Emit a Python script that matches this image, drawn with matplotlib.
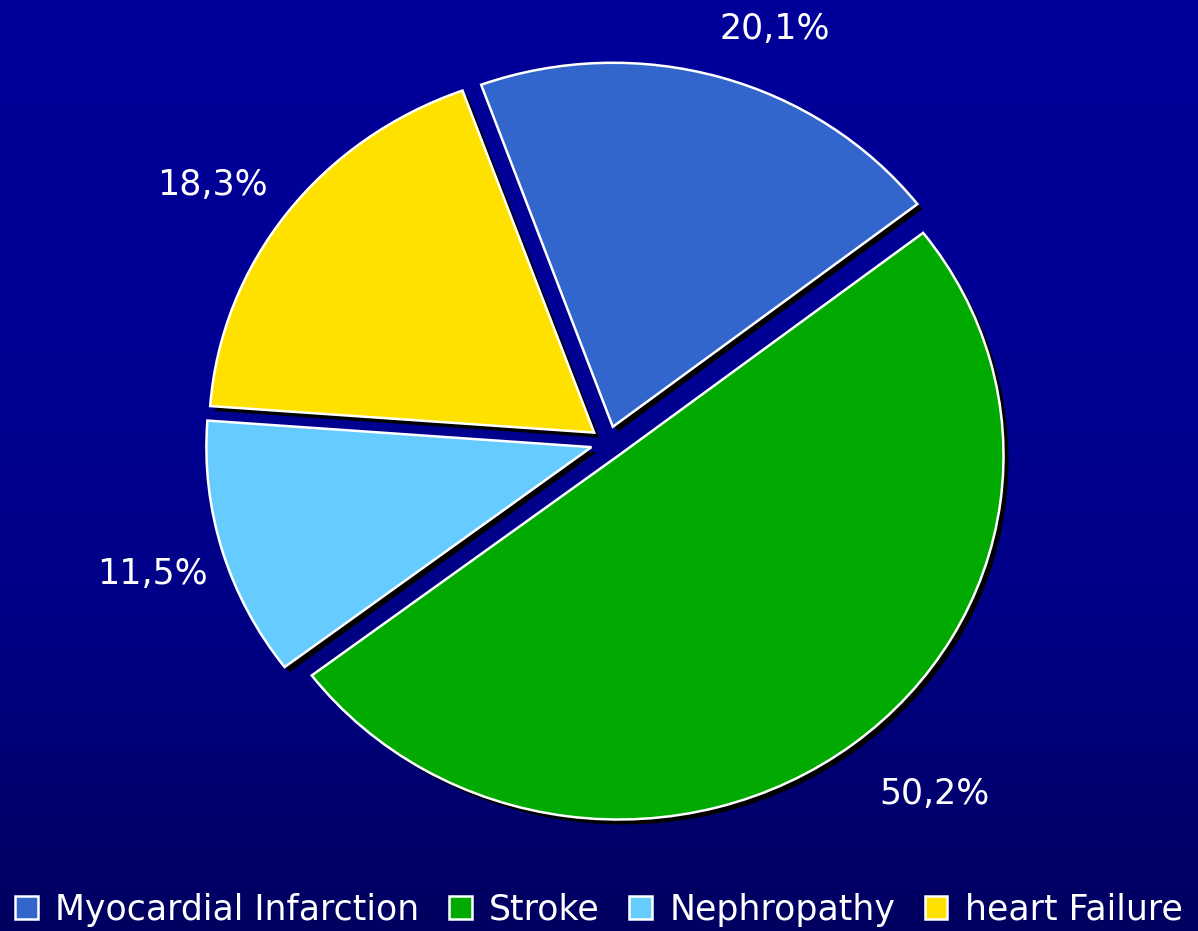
import matplotlib.pyplot as plt
import numpy as np
from matplotlib.colors import LinearSegmentedColormap

categories = ['Myocardial Infarction', 'Stroke', 'Nephropathy', 'heart Failure']
values = [20.1, 50.2, 11.5, 18.3]
colors = ['#3366CC', '#00AA00', '#66CCFF', '#FFE100']

# pixel geometry of the picture (pie center and radii, px)
W, H = 1198, 931
cx, cy = 608, 442.5
rx, ry = 385, 364

# label placement: radius and angle nudge (deg) relative to wedge middle
lab_r = [1.215, 1.285, 1.236, 1.247]
lab_dang = [-4.8, 3.8, 0.5, 2.5]

plt.rcParams['font.family'] = ['DejaVu Sans']

fig = plt.figure(figsize=(W / 100, H / 100), dpi=100)
ax = fig.add_axes([0, 0, 1, 1])

xlim = (-cx / rx, (W - cx) / rx)
ylim = ((cy - H) / ry, cy / ry)

# background gradient, dark at the bottom
bg = LinearSegmentedColormap.from_list('bg', ['#000060', '#000086', '#000096', '#000099'])
grad = np.linspace(0, 1, 256).reshape(-1, 1)
ax.imshow(grad, extent=(xlim[0], xlim[1], ylim[0], ylim[1]), origin='lower',
          cmap=bg, aspect='auto', zorder=0)

explode = [0.045] * len(values)

# shadow
ax.pie(values, explode=explode, startangle=110, counterclock=False,
       colors=['black'] * len(values), center=(5 / rx, -5 / ry),
       wedgeprops=dict(linewidth=0))

wedges, texts = ax.pie(values, explode=explode, startangle=110, counterclock=False,
                       colors=colors, labels=[f'{v:.1f}%'.replace('.', ',') for v in values],
                       wedgeprops=dict(edgecolor='white', linewidth=1.8),
                       textprops=dict(color='white', fontsize=25))
for w, t, r, da in zip(wedges, texts, lab_r, lab_dang):
    ang = np.deg2rad((w.theta1 + w.theta2) / 2 + da)
    t.set_position((r * np.cos(ang), r * np.sin(ang)))
    t.set_horizontalalignment('center')
    t.set_verticalalignment('center')

ax.set_xlim(*xlim)
ax.set_ylim(*ylim)
ax.set_aspect('auto')
ax.axis('off')

leg = ax.legend(wedges, categories, loc='lower center', bbox_to_anchor=(0.5, -0.018),
                ncol=4, frameon=False, fontsize=25, labelcolor='white',
                handlelength=0.65, handleheight=0.65, handletextpad=0.5,
                columnspacing=0.85, borderaxespad=0.2)

fig.savefig('out.png', dpi=100)
